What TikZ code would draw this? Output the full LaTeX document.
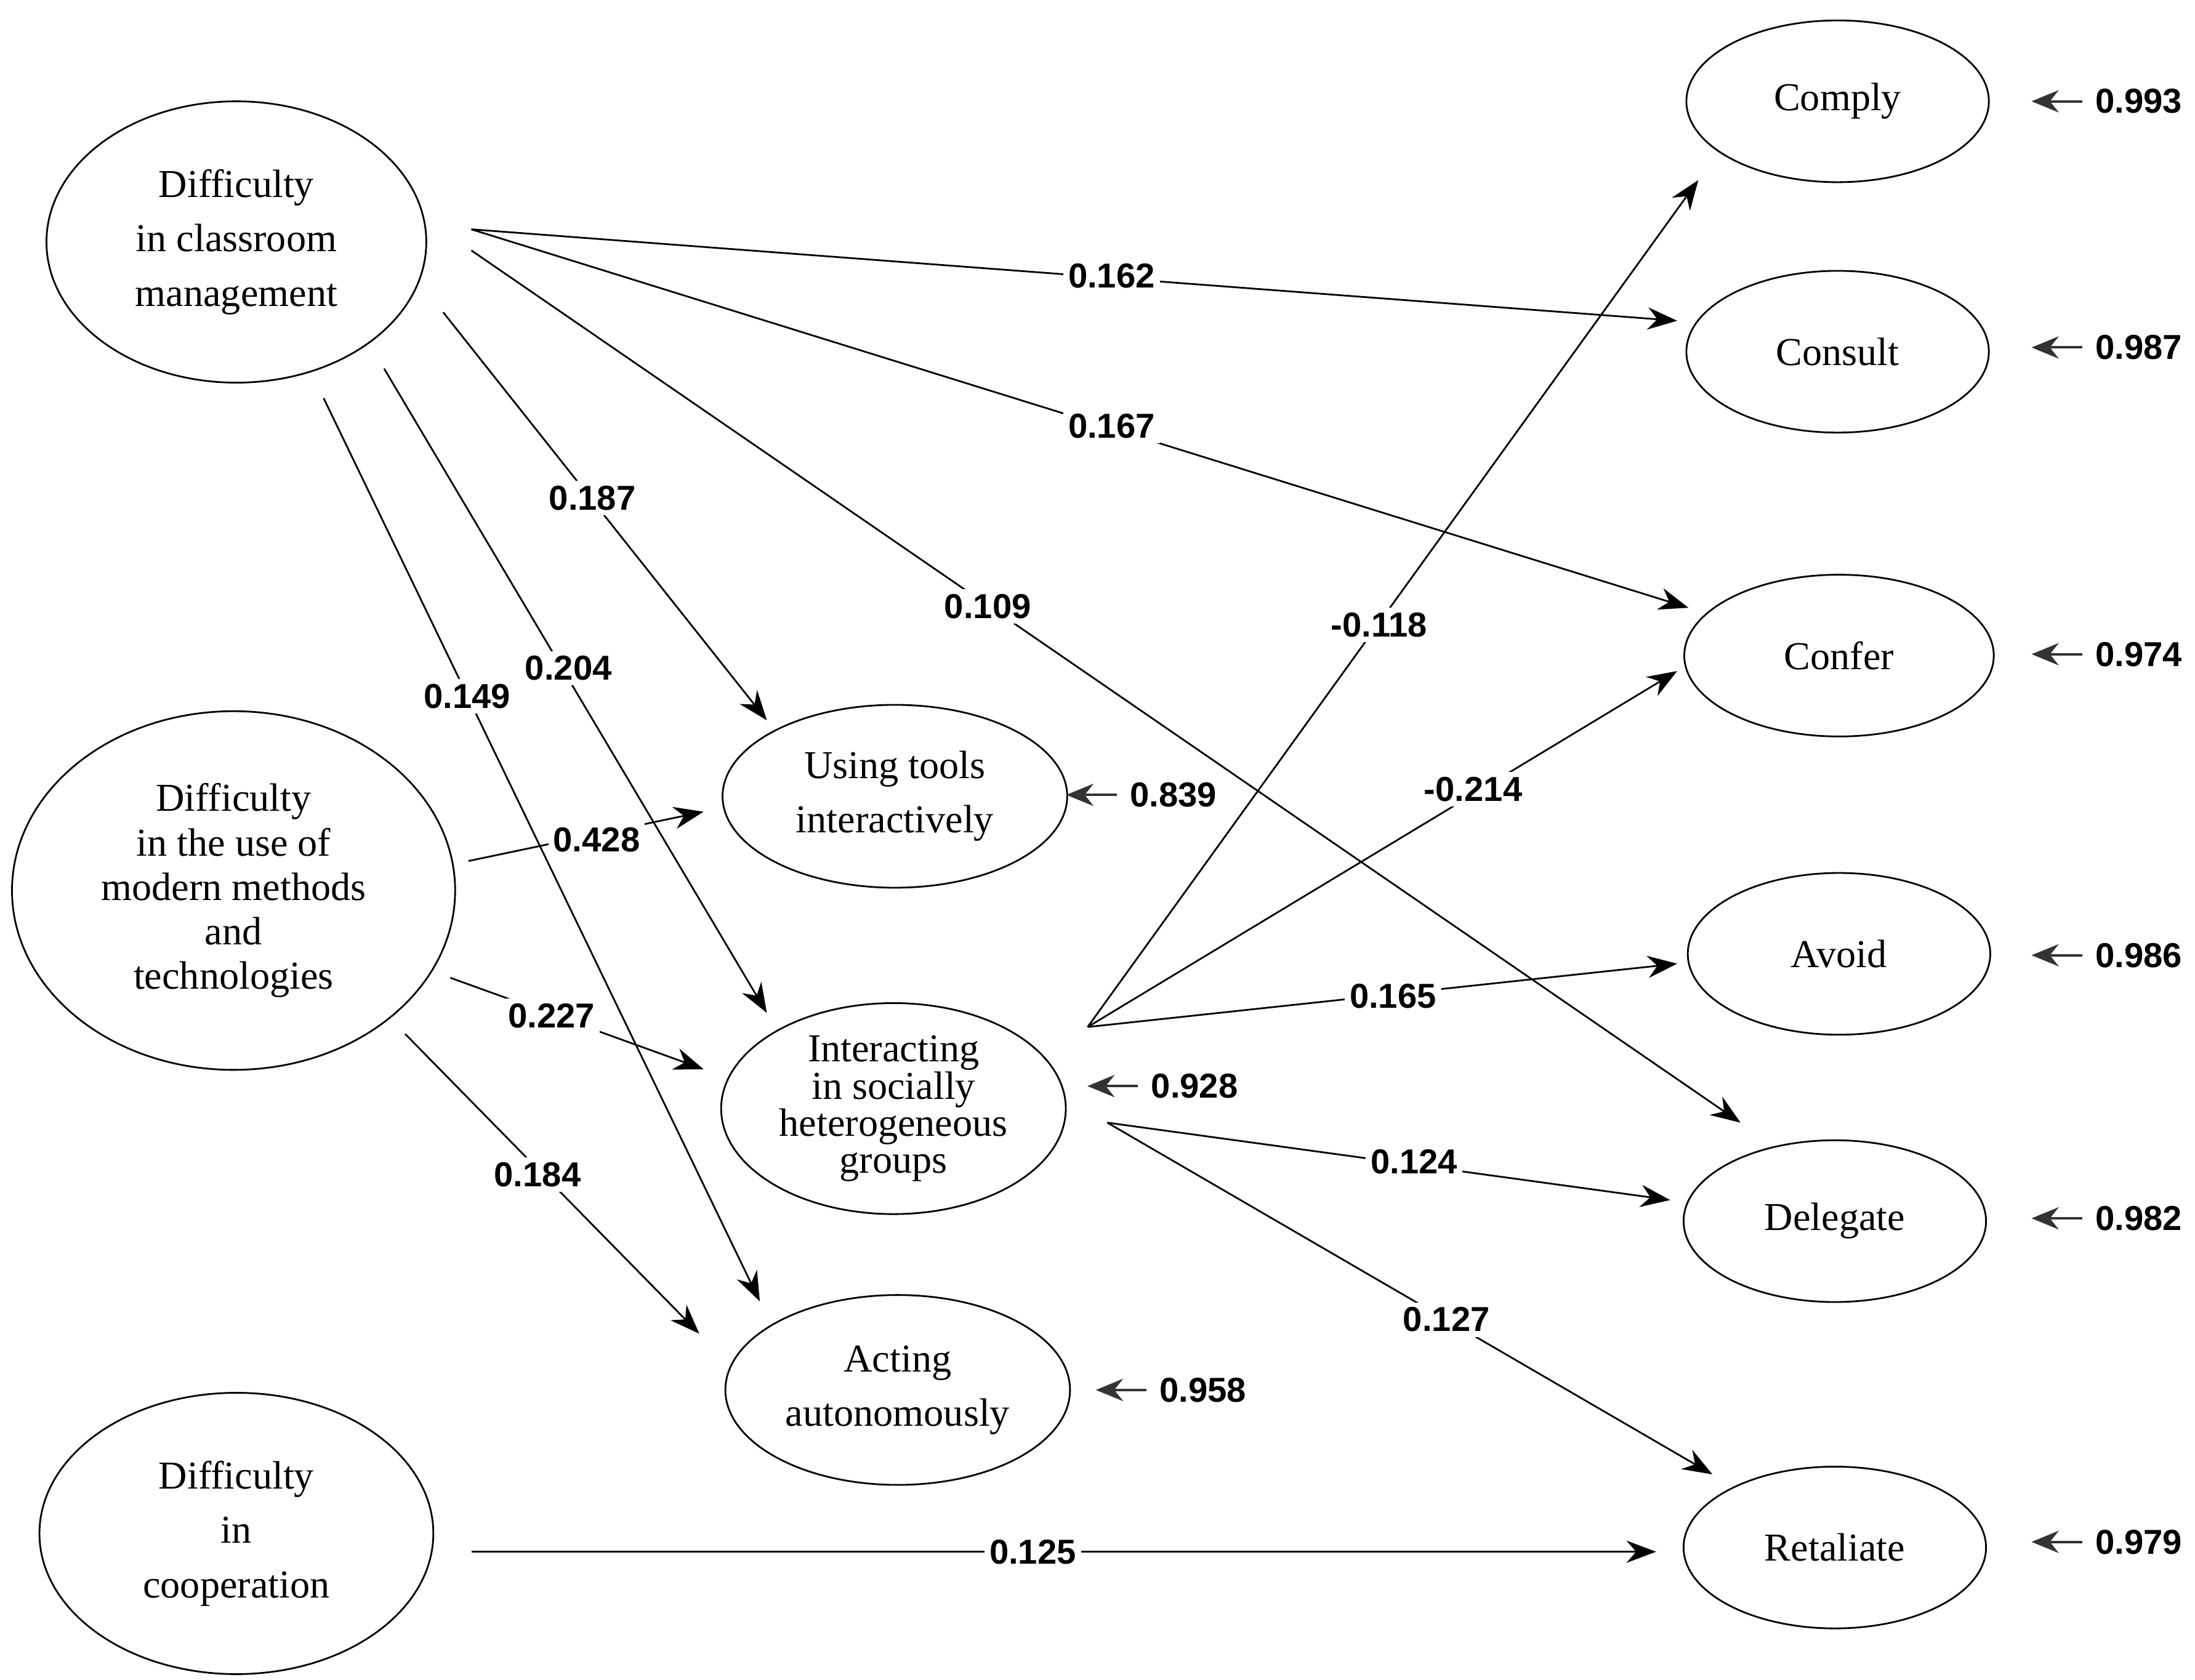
\documentclass[tikz,border=0pt]{standalone}
\usepackage{fontspec}
\setmainfont{Liberation Serif}
\newfontfamily\coeffont{Liberation Sans}
\usetikzlibrary{arrows.meta,shapes.geometric}

\begin{document}
\begin{tikzpicture}[x=0.02cm,y=-0.02cm,line width=0.7pt]
\tikzset{
  var/.style={draw, ellipse, inner sep=0pt, align=center,
    font=\fontsize{16}{22}\selectfont},
  coef/.style={fill=white, inner sep=2pt, font=\coeffont\bfseries\fontsize{14}{16}\selectfont},
  path/.style={draw, -{Stealth[length=12pt,width=9pt]}},
  resid/.style={-{Stealth[length=11pt,width=9pt]}, black!80, line width=1pt}
}
\useasboundingbox (0,0) rectangle (1560,1194);
% exogenous
\node[var, minimum width=5.4cm, minimum height=4cm] (dcm) at (168,172) {Difficulty\\in classroom\\management};
\node[var, minimum width=6.3cm, minimum height=5.1cm, font=\fontsize{16}{18}\selectfont] (dumt) at (166,633) {Difficulty\\in the use of\\modern methods\\and\\technologies};
\node[var, minimum width=5.6cm, minimum height=4cm] (dc) at (168,1090) {Difficulty\\in\\cooperation};
% mediators
\node[var, minimum width=4.9cm, minimum height=2.6cm] (using) at (636,566) {Using tools\\interactively};
\node[var, minimum width=4.9cm, minimum height=3cm, font=\fontsize{16}{15}\selectfont] (inter) at (635,788) {Interacting\\in socially\\heterogeneous\\groups};
\node[var, minimum width=4.9cm, minimum height=2.7cm] (acting) at (638,988) {Acting\\autonomously};
% outcomes
\node[var, minimum width=4.3cm, minimum height=2.3cm] (comply) at (1306,72) {Comply};
\node[var, minimum width=4.3cm, minimum height=2.3cm] (consult) at (1306,250) {Consult};
\node[var, minimum width=4.4cm, minimum height=2.3cm] (confer) at (1307,466) {Confer};
\node[var, minimum width=4.3cm, minimum height=2.3cm] (avoid) at (1307,678) {Avoid};
\node[var, minimum width=4.3cm, minimum height=2.3cm] (delegate) at (1304,868) {Delegate};
\node[var, minimum width=4.3cm, minimum height=2.3cm] (retaliate) at (1304,1100) {Retaliate};
% connector ends
\coordinate (dcmA) at (335,163);
\coordinate (dcmB) at (335,178);
\coordinate (dcmC) at (315,222);
\coordinate (dcmD) at (273,262);
\coordinate (dcmE) at (230,283);
\coordinate (dumtA) at (333,612);
\coordinate (dumtB) at (320,695);
\coordinate (dumtC) at (288,735);
\coordinate (fanA) at (773,730);
\coordinate (fanB) at (787,798);
\coordinate (dcA) at (335,1103);
\coordinate (usingIn) at (545,512);
\coordinate (usingL) at (500,577);
\coordinate (interIn) at (545,720);
\coordinate (interL) at (500,760);
\coordinate (actingIn) at (540,925);
\coordinate (actingL) at (497,948);
\coordinate (complyIn) at (1207,128);
\coordinate (consultIn) at (1192,228);
\coordinate (conferA) at (1200,432);
\coordinate (conferB) at (1192,477);
\coordinate (avoidIn) at (1192,685);
\coordinate (delegateA) at (1237,798);
\coordinate (delegateB) at (1187,853);
\coordinate (retaliateA) at (1217,1048);
\coordinate (retaliateB) at (1177,1103);
% paths
\draw[path] (dcmA) -- (consultIn);
\draw[path] (dcmA) -- (conferA);
\draw[path] (dcmB) -- (delegateA);
\draw[path] (dcmC) -- (usingIn);
\draw[path] (dcmD) -- (interIn);
\draw[path] (dcmE) -- (actingIn);
\draw[path] (dumtA) -- (usingL);
\draw[path] (dumtB) -- (interL);
\draw[path] (dumtC) -- (actingL);
\draw[path] (fanA) -- (complyIn);
\draw[path] (fanA) -- (conferB);
\draw[path] (fanA) -- (avoidIn);
\draw[path] (fanB) -- (delegateB);
\draw[path] (fanB) -- (retaliateA);
\draw[path] (dcA) -- (retaliateB);
% coefficients
\node[coef] (c1) at (790,196) {0.162};
\node[coef] (c2) at (790,303) {0.167};
\node[coef] (c3) at (421,354) {0.187};
\node[coef] (c4) at (702,431) {0.109};
\node[coef] (c5) at (404,475) {0.204};
\node[coef] (c6) at (332,495) {0.149};
\node[coef] (c7) at (424,597) {0.428};
\node[coef] (c8) at (392,722) {0.227};
\node[coef] (c9) at (382,835) {0.184};
\node[coef] (c10) at (980,444) {-0.118};
\node[coef] (c11) at (1047,561) {-0.214};
\node[coef] (c12) at (990,708) {0.165};
\node[coef] (c13) at (1005,826) {0.124};
\node[coef] (c14) at (1028,938) {0.127};
\node[coef] (c15) at (734,1103) {0.125};
% residuals
\foreach \n/\x/\y/\v in {r1/834/565/0.839, r2/849/772/0.928, r3/855/988/0.958,
  r4/1520/72/0.993, r5/1520/247/0.987, r6/1520/465/0.974,
  r7/1520/679/0.986, r8/1520/866/0.982, r9/1520/1096/0.979}{
  \node[coef, fill=none] (\n) at (\x,\y) {\v};
  \draw[resid] ([xshift=-3pt]\n.west) -- ++(-36,0);
}
\end{tikzpicture}
\end{document}
